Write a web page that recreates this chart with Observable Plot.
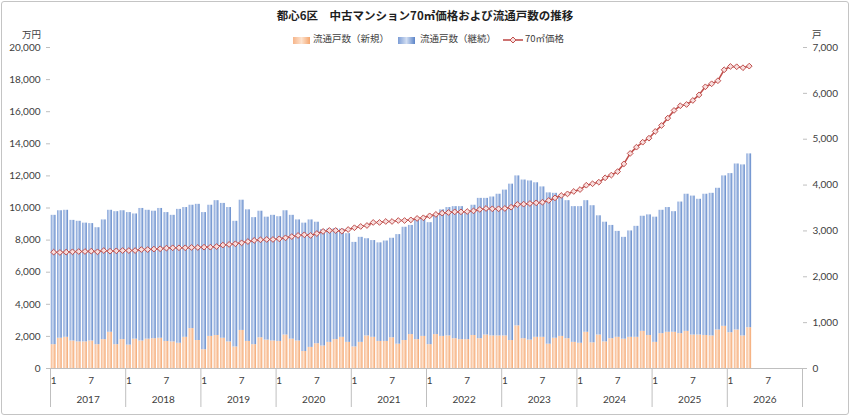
<!DOCTYPE html>
<html>
<head>
<meta charset="utf-8">
<script src="https://cdn.jsdelivr.net/npm/d3@7"></script>
<script src="https://cdn.jsdelivr.net/npm/@observablehq/plot@0.6"></script>
<style>
  html, body { margin: 0; padding: 0; background: #fff; }
  #wrap { position: relative; width: 850px; height: 416px; overflow: hidden; background: #fff;
          font-family: Lato, "Noto Sans CJK JP", sans-serif; color: #404040; }
  #frame { position: absolute; left: 1px; top: 1px; width: 846px; height: 412px; border: 1px solid #c4c4c4; border-radius: 3px; pointer-events: none; }
  .abs { position: absolute; white-space: nowrap; line-height: 1; }
  #title { left: 0; width: 850px; top: 10px; text-align: center; font-weight: bold; font-size: 11.5px; color: #1f1f1f; font-family: "Noto Sans CJK JP", sans-serif; }
  .leg { font-size: 9.5px; font-family: "Noto Sans CJK JP", sans-serif; color: #404040; top: 34px; }
  .unit { font-size: 9.5px; font-family: "Noto Sans CJK JP", sans-serif; color: #404040; top: 30px; }
  #chart svg { position: absolute; left: 0; top: 0; }
</style>
</head>
<body>
<div id="wrap">
  <div id="chart"></div>
  <div id="title" class="abs">都心6区　中古マンション70㎡価格および流通戸数の推移</div>
  <div class="abs" style="left:293px;top:37px;width:17px;height:7px;background:linear-gradient(90deg,#f6b58a,#fde3cf 50%,#f4a56e);"></div>
  <div class="abs leg" style="left:313px;">流通戸数（新規）</div>
  <div class="abs" style="left:398px;top:37px;width:17px;height:7px;background:linear-gradient(90deg,#7c9dd6,#d2def2 50%,#5b84c8);"></div>
  <div class="abs leg" style="left:420px;">流通戸数（継続）</div>
  <svg class="abs" style="left:502px;top:35px;" width="22" height="10"><line x1="1" y1="5" x2="21" y2="5" stroke="#c0504d" stroke-width="1.6"/><path d="M11,2 L14,5 L11,8 L8,5 Z" fill="#f8dede" stroke="#c0504d" stroke-width="1"/></svg>
  <div class="abs leg" style="left:525px;">70㎡価格</div>
  <div class="abs unit" style="left:22px;">万円</div>
  <div class="abs unit" style="left:812px;">戸</div>
  <div id="frame"></div>
</div>
<script>
// Years and month tick labels
const years = [2017, 2018, 2019, 2020, 2021, 2022, 2023, 2024, 2025, 2026];
const monthTickLabels = ["1", "7"];

// 流通戸数（新規）, monthly from 2017-01 to 2026-04 (戸)
const newUnits = [
  520, 660, 680, 600, 580, 580, 600, 520, 630, 790, 520, 630,
  510, 640, 600, 640, 650, 660, 590, 580, 550, 680, 870, 610,
  410, 700, 720, 660, 580, 470, 830, 590, 520, 670, 620, 600,
  590, 730, 640, 600, 370, 460, 540, 490, 570, 630, 680, 570,
  470, 570, 710, 680, 590, 590, 670, 530, 610, 740, 630, 700,
  520, 740, 700, 710, 650, 630, 630, 720, 650, 730, 710, 710,
  710, 610, 930, 650, 620, 680, 680, 530, 660, 700, 650, 570,
  550, 790, 560, 730, 580, 650, 680, 640, 680, 680, 810, 720,
  570, 760, 790, 790, 760, 810, 730, 730, 720, 710, 840, 920,
  780, 840, 710, 890
];

// 流通戸数（継続） (戸)
const contUnits = [
  2820, 2780, 2770, 2630, 2630, 2590, 2560, 2550, 2610, 2660, 2900, 2810,
  2890, 2730, 2890, 2810, 2780, 2830, 2810, 2760, 2920, 2830, 2690, 2970,
  2990, 2860, 2940, 2940, 2930, 2740, 2840, 2870, 2770, 2760, 2680, 2740,
  2720, 2710, 2700, 2640, 2800, 2780, 2650, 2540, 2470, 2420, 2360, 2370,
  2280, 2290, 2120, 2110, 2150, 2190, 2170, 2390, 2470, 2380, 2610, 2550,
  2660, 2600, 2760, 2800, 2880, 2900, 2790, 2840, 3060, 2980, 3030, 3090,
  3180, 3410, 3270, 3460, 3470, 3370, 3280, 3300, 3160, 3070, 3010, 2960,
  2980, 2870, 2990, 2600, 2610, 2470, 2310, 2220, 2320, 2420, 2510, 2630,
  2730, 2690, 2720, 2630, 2870, 2990, 3030, 2960, 3080, 3110, 3090, 3280,
  3470, 3620, 3730, 3790
];

// 70㎡価格 (万円)
const price = [
  7250, 7230, 7250, 7270, 7290, 7290, 7310, 7270, 7350, 7310, 7330, 7350,
  7350, 7350, 7410, 7410, 7440, 7460, 7500, 7520, 7520, 7520, 7540, 7540,
  7560, 7560, 7600, 7690, 7730, 7770, 7830, 7910, 7980, 8020, 8040, 8040,
  8080, 8140, 8220, 8290, 8330, 8290, 8410, 8540, 8600, 8600, 8560, 8660,
  8770, 8850, 8910, 9100, 9100, 9160, 9160, 9220, 9220, 9260, 9350, 9390,
  9510, 9600, 9680, 9720, 9760, 9760, 9780, 9820, 9910, 9970, 9950, 9950,
  9970, 10050, 10220, 10240, 10280, 10320, 10360, 10470, 10630, 10780, 10880, 11030,
  11150, 11420, 11510, 11610, 11880, 12050, 12270, 12750, 13400, 13790, 14100, 14350,
  14770, 15140, 15600, 16080, 16370, 16450, 16700, 17050, 17550, 17740, 17930, 18610,
  18820, 18800, 18740, 18840
];

const unitsMax = 7000;   // right axis (戸)
const priceMax = 20000;  // left axis (万円)
const toUnits = v => v * unitsMax / priceMax;

const data = newUnits.map((n, i) => ({
  i, year: years[0] + Math.floor(i / 12), month: i % 12 + 1,
  newU: n, cont: contUnits[i], total: n + contUnits[i], price: price[i]
}));

const nMonths = years.length * 12;
const monthTicks = [];
years.forEach((y, k) => monthTickLabels.forEach(m => monthTicks.push(k * 12 + (+m - 1) + 0.5)));
const yearBounds = d3.range(0, nMonths + 1, 12);
const yearMids = years.map((y, k) => k * 12 + 6);

const ns = "http://www.w3.org/2000/svg";
function gradientDefs() {
  const defs = document.createElementNS(ns, "defs");
  const mk = (id, stops) => {
    const g = document.createElementNS(ns, "linearGradient");
    g.setAttribute("id", id);
    g.setAttribute("x1", "0"); g.setAttribute("x2", "1"); g.setAttribute("y1", "0"); g.setAttribute("y2", "0");
    stops.forEach(([o, c]) => {
      const s = document.createElementNS(ns, "stop");
      s.setAttribute("offset", o); s.setAttribute("stop-color", c);
      g.appendChild(s);
    });
    defs.appendChild(g);
  };
  mk("gBlue", [["0%", "#7c9dd6"], ["45%", "#d2def2"], ["100%", "#5b84c8"]]);
  mk("gOrange", [["0%", "#f6b58a"], ["45%", "#fde3cf"], ["100%", "#f4a56e"]]);
  return defs;
}

const axisColor = "#bfbfbf";
const textColor = "#404040";

const chart = Plot.plot({
  width: 850,
  height: 416,
  marginTop: 47,
  marginBottom: 48,
  marginLeft: 50,
  marginRight: 48,
  style: { fontFamily: 'Lato, "Noto Sans CJK JP", sans-serif', fontSize: "10px", background: "transparent", color: textColor },
  x: { type: "linear", domain: [0, nMonths] },
  y: { domain: [0, unitsMax] },
  marks: [
    gradientDefs,
    Plot.rect(data, { x1: d => d.i + 0.12, x2: d => d.i + 0.88, y1: 0, y2: "newU", fill: "url(#gOrange)" }),
    Plot.rect(data, { x1: d => d.i + 0.12, x2: d => d.i + 0.88, y1: "newU", y2: "total", fill: "url(#gBlue)" }),
    Plot.ruleY([0], { stroke: axisColor }),
    Plot.line(data, { x: d => d.i + 0.5, y: d => toUnits(d.price), stroke: "#c0504d", strokeWidth: 1.6 }),
    Plot.dot(data, { x: d => d.i + 0.5, y: d => toUnits(d.price), symbol: "diamond2", r: 2.6, stroke: "#c0504d", strokeWidth: 1, fill: "#f8dede" }),
    Plot.axisY({ anchor: "left", ticks: d3.range(0, unitsMax + 1, unitsMax / 10), tickFormat: d => d3.format(",")(Math.round(d * priceMax / unitsMax)), tickSize: 4, tickPadding: 6, line: true, stroke: axisColor, fill: textColor, label: null }),
    Plot.axisY({ anchor: "right", ticks: d3.range(0, unitsMax + 1, 1000), tickFormat: d3.format(","), tickSize: 4, tickPadding: 6, line: true, stroke: axisColor, fill: textColor, label: null }),
    Plot.axisX({ ticks: monthTicks, tickFormat: d => String(Math.floor(d) % 12 + 1), tickSize: 0, tickPadding: 8, fill: textColor, label: null }),
    Plot.axisX({ ticks: yearBounds, tickFormat: () => "", tickSize: 39, stroke: axisColor, label: null }),
    Plot.axisX({ ticks: yearMids, tickFormat: d => String(years[Math.floor(d / 12)]), tickSize: 0, tickPadding: 27, fill: textColor, label: null })
  ]
});

document.getElementById("chart").appendChild(chart);
</script>
</body>
</html>
